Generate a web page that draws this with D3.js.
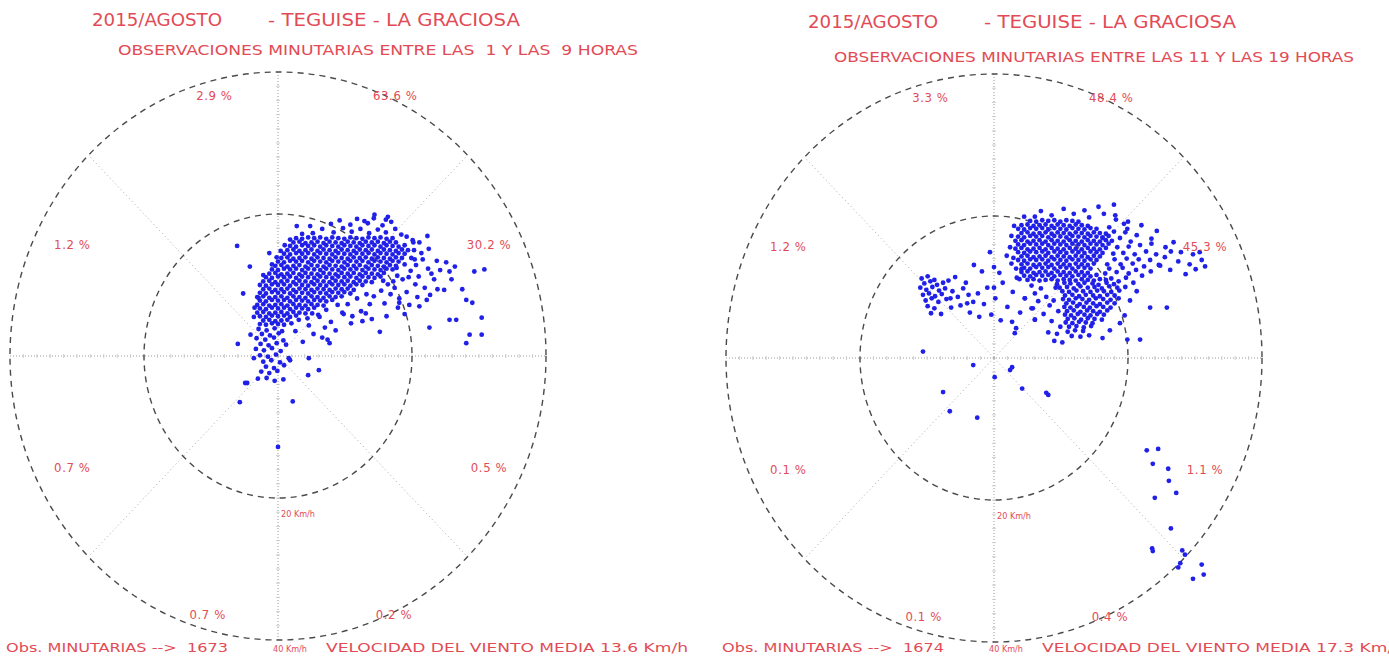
<!DOCTYPE html>
<html>
<head>
<meta charset="utf-8">
<script src="https://cdn.jsdelivr.net/npm/d3@7"></script>
<style>
body{margin:0;background:#fff;}
svg{display:block;}
text{font-family:"DejaVu Sans Condensed","Liberation Sans Narrow",sans-serif;fill:#e24b55;white-space:pre;}
</style>
</head>
<body>
<svg id="chart" width="1389" height="663"></svg>
<script>
// percentages per sector, clockwise from north: NNE, ENE, ESE, SSE, SSW, WSW, WNW, NNW
var sectorsAM = [63.6, 30.2, 0.5, 0.2, 0.7, 0.7, 1.2, 2.9];
var sectorsPM = [48.4, 45.3, 1.1, 0.4, 0.1, 0.1, 1.2, 3.3];
var hoursAM = [1, 9];
var hoursPM = [11, 19];
var countAM = 1673;
var countPM = 1674;
var meanAM = 13.6;
var meanPM = 17.3;
var ringSpeeds = [20, 40];

var obsAM = [
// dense core
[2.7,16.6],[3.6,16.5],[4.5,16.7],[5.4,16.6],[6.3,16.7],[7.2,16.5],[8.1,16.7],[9.0,16.6],[9.9,16.5],[10.8,16.7],[11.7,16.6],[12.6,16.5],[13.5,16.7],[14.4,16.6],[15.3,16.7],[16.2,16.5],[17.1,16.6],
[2.3,16.0],[3.2,16.1],[4.1,15.9],[5.0,16.0],[5.9,16.1],[6.8,15.9],[7.7,16.1],[8.6,16.0],[9.5,15.9],[10.4,16.1],[11.3,16.0],[12.2,15.9],[13.1,16.1],[14.0,16.0],[14.9,16.1],[15.8,15.9],[16.7,16.1],[17.6,16.0],
[1.8,15.5],[2.7,15.4],[3.6,15.6],[4.5,15.5],[5.4,15.6],[6.3,15.4],[7.2,15.6],[8.1,15.5],[9.0,15.4],[9.9,15.6],[10.8,15.5],[11.7,15.4],[12.6,15.6],[13.5,15.5],[14.4,15.6],[15.3,15.4],[16.2,15.6],[17.1,15.5],[18.0,15.4],[18.9,15.6],
[1.4,14.9],[2.3,15.0],[3.2,14.8],[4.1,14.9],[5.0,15.0],[5.9,14.8],[6.8,15.0],[7.7,14.9],[8.6,14.8],[9.5,15.0],[10.4,14.9],[11.3,14.8],[12.2,15.0],[13.1,14.9],[14.0,15.0],[14.9,14.8],[15.8,15.0],[16.7,14.9],[17.6,14.8],[18.5,15.0],[19.4,14.9],
[0.9,14.4],[1.8,14.3],[2.7,14.5],[3.6,14.4],[4.5,14.5],[5.4,14.3],[6.3,14.5],[7.2,14.4],[8.1,14.3],[9.0,14.5],[9.9,14.4],[10.8,14.3],[11.7,14.5],[12.6,14.4],[13.5,14.5],[14.4,14.3],[15.3,14.5],[16.2,14.4],[17.1,14.3],[18.0,14.5],[18.9,14.4],
[0.5,13.8],[1.4,13.9],[2.3,13.7],[3.2,13.8],[4.1,13.9],[5.0,13.7],[5.9,13.9],[6.8,13.8],[7.7,13.7],[8.6,13.9],[9.5,13.8],[10.4,13.7],[11.3,13.9],[12.2,13.8],[13.1,13.9],[14.0,13.7],[14.9,13.9],[15.8,13.8],[16.7,13.7],[17.6,13.9],[18.5,13.8],
[0.0,13.3],[0.9,13.2],[1.8,13.4],[2.7,13.3],[3.6,13.4],[4.5,13.2],[5.4,13.4],[6.3,13.3],[7.2,13.2],[8.1,13.4],[9.0,13.3],[9.9,13.2],[10.8,13.4],[11.7,13.3],[12.6,13.4],[13.5,13.2],[14.4,13.4],[15.3,13.3],[16.2,13.2],[17.1,13.4],[18.0,13.3],
[-0.4,12.7],[0.5,12.8],[1.4,12.6],[2.3,12.7],[3.2,12.8],[4.1,12.6],[5.0,12.8],[5.9,12.7],[6.8,12.6],[7.7,12.8],[8.6,12.7],[9.5,12.6],[10.4,12.8],[11.3,12.7],[12.2,12.8],[13.1,12.6],[14.0,12.8],[14.9,12.7],[15.8,12.6],[16.7,12.8],[17.6,12.7],
[-0.9,12.2],[0.0,12.1],[0.9,12.3],[1.8,12.2],[2.7,12.3],[3.6,12.1],[4.5,12.3],[5.4,12.2],[6.3,12.1],[7.2,12.3],[8.1,12.2],[9.0,12.1],[9.9,12.3],[10.8,12.2],[11.7,12.3],[12.6,12.1],[13.5,12.3],[14.4,12.2],[15.3,12.1],[16.2,12.3],[17.1,12.2],
[-1.3,11.6],[-0.4,11.7],[0.5,11.5],[1.4,11.6],[2.3,11.7],[3.2,11.5],[4.1,11.7],[5.0,11.6],[5.9,11.5],[6.8,11.7],[7.7,11.6],[8.6,11.5],[9.5,11.7],[10.4,11.6],[11.3,11.7],[12.2,11.5],[13.1,11.7],[14.0,11.6],[14.9,11.5],[15.8,11.7],
[-1.8,11.1],[-0.9,11.0],[0.0,11.2],[0.9,11.1],[1.8,11.2],[2.7,11.0],[3.6,11.2],[4.5,11.1],[5.4,11.0],[6.3,11.2],[7.2,11.1],[8.1,11.0],[9.0,11.2],[9.9,11.1],[10.8,11.2],[11.7,11.0],[12.6,11.2],[13.5,11.1],[14.4,11.0],[15.3,11.2],
[-2.2,10.5],[-1.3,10.6],[-0.4,10.4],[0.5,10.5],[1.4,10.6],[2.3,10.4],[3.2,10.6],[4.1,10.5],[5.0,10.4],[5.9,10.6],[6.8,10.5],[7.7,10.4],[8.6,10.6],[9.5,10.5],[10.4,10.6],[11.3,10.4],[12.2,10.6],[13.1,10.5],[14.0,10.4],
[-2.7,10.0],[-1.8,9.9],[-0.9,10.1],[0.0,10.0],[0.9,10.1],[1.8,9.9],[2.7,10.1],[3.6,10.0],[4.5,9.9],[5.4,10.1],[6.3,10.0],[7.2,9.9],[8.1,10.1],[9.0,10.0],[9.9,10.1],[10.8,9.9],[11.7,10.1],[12.6,10.0],
[-2.2,9.4],[-1.3,9.5],[-0.4,9.3],[0.5,9.4],[1.4,9.5],[2.3,9.3],[3.2,9.5],[4.1,9.4],[5.0,9.3],[5.9,9.5],[6.8,9.4],[7.7,9.3],[8.6,9.5],[9.5,9.4],[10.4,9.5],[11.3,9.3],
[-2.7,8.9],[-1.8,8.8],[-0.9,9.0],[0.0,8.9],[0.9,9.0],[1.8,8.8],[2.7,9.0],[3.6,8.9],[4.5,8.8],[5.4,9.0],[6.3,8.9],[7.2,8.8],[8.1,9.0],[9.0,8.9],[9.9,9.0],[10.8,8.8],
[-3.1,8.3],[-2.2,8.4],[-1.3,8.2],[-0.4,8.3],[0.5,8.4],[1.4,8.2],[2.3,8.4],[3.2,8.3],[4.1,8.2],[5.0,8.4],[5.9,8.3],[6.8,8.2],[7.7,8.4],[8.6,8.3],[9.5,8.4],
[-2.7,7.8],[-1.8,7.7],[-0.9,7.9],[0.0,7.8],[0.9,7.9],[1.8,7.7],[2.7,7.9],[3.6,7.8],[4.5,7.7],[5.4,7.9],[6.3,7.8],[7.2,7.7],[8.1,7.9],
[-3.1,7.2],[-2.2,7.3],[-1.3,7.1],[-0.4,7.2],[0.5,7.3],[1.4,7.1],[2.3,7.3],[3.2,7.2],[4.1,7.1],[5.0,7.3],[5.9,7.2],[6.8,7.1],
[-2.7,6.7],[-1.8,6.6],[-0.9,6.8],[0.0,6.7],[0.9,6.8],[1.8,6.6],[2.7,6.8],[3.6,6.7],[4.5,6.6],[5.4,6.8],
[-3.1,6.1],[-2.2,6.2],[-1.3,6.0],[-0.4,6.1],[0.5,6.2],[1.4,6.0],[2.3,6.2],[3.2,6.1],[4.1,6.0],
[-2.7,5.6],[-1.8,5.5],[-0.9,5.7],[0.0,5.6],[0.9,5.7],[1.8,5.5],[2.7,5.7],
[-2.2,5.0],[-1.3,5.1],[-0.4,4.9],[0.5,5.0],[1.4,5.1],
[-2.7,4.5],[-1.8,4.4],[-0.9,4.6],[0.0,4.5],[0.9,4.4],
// southward strand
[-2.9,3.8],[-1.7,3.6],[-0.5,3.9],[0.6,3.5],[-2.4,3.1],[-1.2,2.9],[0.1,3.2],[-3.2,2.5],[-1.9,2.3],[-0.6,2.6],
[0.8,2.2],[-2.6,1.7],[-1.4,1.5],[-0.2,1.8],[-3.3,1.0],[-2.1,0.8],[-0.9,1.1],[0.4,0.7],[-2.7,0.1],[-1.5,-0.1],
[-0.3,0.2],[-2.2,-0.8],[-1.0,-0.6],[0.3,-0.9],[-1.8,-1.5],[-0.6,-1.7],[-2.5,-2.2],[-1.3,-2.4],[-0.1,-2.1],[-1.7,-3.1],
[-0.5,-3.5],[0.8,-3.3],[-3.0,-3.2],[-4.6,-3.8],[0.9,-1.3],[1.8,-0.6],[-3.6,-0.3],[1.2,1.6],
// upper fringe
[5.2,17.3],[8.3,17.4],[11.0,17.5],[13.6,17.3],[16.1,17.4],[18.4,17.1],[3.6,17.2],[6.6,17.9],[9.7,18.0],[12.3,17.9],
[14.9,17.8],[17.5,17.9],[4.8,18.3],[7.9,18.6],[10.8,18.5],[13.4,18.7],[15.6,18.4],[16.9,18.9],[11.8,19.3],[14.3,19.4],
[16.1,19.2],[12.9,19.0],[9.2,19.1],[19.2,16.8],[20.1,16.3],[2.8,18.3],[14.4,19.9],[16.4,19.6],
// left fringe
[-2.2,11.4],[-0.9,12.9],[-0.2,13.9],[0.4,14.8],[1.0,15.6],[1.8,16.4],[-2.9,8.2],[-1.3,14.5],[-3.5,6.8],
// east side, medium density
[19.8,12.0],[21.0,11.2],[22.4,12.3],[20.5,10.1],[21.9,9.6],[23.3,10.8],[19.2,9.0],[20.8,8.3],[22.7,8.6],[18.6,10.8],
[24.2,12.1],[23.7,13.4],[21.6,13.6],[20.3,14.9],[22.5,15.1],[18.1,8.1],[19.6,7.2],[17.4,9.6],[16.8,8.7],[17.9,6.8],
[15.9,7.4],[14.3,8.4],[13.7,7.3],[16.4,10.1],[25.1,13.2],[26.4,12.6],[24.8,9.3],[18.9,5.9],[16.2,5.6],[14.0,5.2],
[12.4,6.3],[17.8,11.3],[18.9,12.9],[20.6,12.8],[19.5,11.1],[17.2,10.5],[15.4,9.2],[13.2,8.7],[11.8,8.1],[21.4,14.5],
[19.9,13.8],[17.7,12.4],[15.7,10.6],[22.9,11.6],[20.2,16.0],[18.1,7.5],[10.4,7.3],[8.9,7.2],[7.2,6.5],[9.6,6.1],
[11.1,5.6],[6.0,5.8],
[22.3,16.9],[29.3,11.9],[30.4,5.4],[28.1,1.8],[30.4,3.0],[28.6,3.0],[25.6,5.1],[26.6,5.1],[22.6,4.0],[29.0,7.5],
[28.1,7.9],[25.9,10.8],[27.5,9.4],[25.6,11.9],[23.8,9.4],[22.2,7.9],[21.1,7.0],[15.2,3.4],[30.8,12.2],[20.4,13.6],[21.1,16.0],
// south of the core
[3.1,5.1],[4.6,4.3],[6.2,5.5],[7.9,4.8],[5.3,3.1],[8.6,3.6],[2.6,3.5],[9.8,5.9],[3.7,2.0],[5.1,6.0],
[7.0,4.0],[10.9,4.6],[12.6,4.9],[13.1,6.0],[4.4,5.3],[6.6,2.6],[2.0,4.6],
// isolated
[-6.1,15.5],[-4.2,12.6],[-5.2,8.8],[-6.0,1.7],[-4.9,-3.8],[-5.7,-6.5],[0.0,-12.8],[2.2,-6.4],[4.5,-2.7],[6.1,-2.0],
[4.6,-0.3],[1.6,-0.3],[7.7,1.8],[7.4,2.3],[-3.6,5.5],[-4.1,3.0]
];

var obsPM = [
// main cluster
[5.4,19.3],[6.3,19.2],[7.2,19.4],[8.1,19.3],[9.0,19.4],[9.9,19.2],[10.8,19.4],[11.7,19.3],[12.6,19.2],
[4.1,18.7],[5.0,18.8],[5.9,18.6],[6.8,18.7],[7.7,18.8],[8.6,18.6],[9.5,18.8],[10.4,18.7],[11.3,18.6],[12.2,18.8],[13.1,18.7],[14.0,18.6],
[3.6,18.2],[4.5,18.1],[5.4,18.3],[6.3,18.2],[7.2,18.3],[8.1,18.1],[9.0,18.3],[9.9,18.2],[10.8,18.1],[11.7,18.3],[12.6,18.2],[13.5,18.1],[14.4,18.3],[15.3,18.2],
[4.1,17.6],[5.0,17.7],[5.9,17.5],[6.8,17.6],[7.7,17.7],[8.6,17.5],[9.5,17.7],[10.4,17.6],[11.3,17.5],[12.2,17.7],[13.1,17.6],[14.0,17.5],[14.9,17.7],[15.8,17.6],[16.7,17.5],
[3.6,17.1],[4.5,17.0],[5.4,17.2],[6.3,17.1],[7.2,17.2],[8.1,17.0],[9.0,17.2],[9.9,17.1],[10.8,17.0],[11.7,17.2],[12.6,17.1],[13.5,17.0],[14.4,17.2],[15.3,17.1],[16.2,17.0],[17.1,17.2],
[3.2,16.5],[4.1,16.6],[5.0,16.4],[5.9,16.5],[6.8,16.6],[7.7,16.4],[8.6,16.6],[9.5,16.5],[10.4,16.4],[11.3,16.6],[12.2,16.5],[13.1,16.4],[14.0,16.6],[14.9,16.5],[15.8,16.4],[16.7,16.6],[17.6,16.5],
[3.6,16.0],[4.5,15.9],[5.4,16.1],[6.3,16.0],[7.2,16.1],[8.1,15.9],[9.0,16.1],[9.9,16.0],[10.8,15.9],[11.7,16.1],[12.6,16.0],[13.5,15.9],[14.4,16.1],[15.3,16.0],[16.2,15.9],[17.1,16.1],
[3.2,15.4],[4.1,15.5],[5.0,15.3],[5.9,15.4],[6.8,15.5],[7.7,15.3],[8.6,15.5],[9.5,15.4],[10.4,15.3],[11.3,15.5],[12.2,15.4],[13.1,15.3],[14.0,15.5],[14.9,15.4],[15.8,15.3],[16.7,15.5],
[3.6,14.9],[4.5,14.8],[5.4,15.0],[6.3,14.9],[7.2,15.0],[8.1,14.8],[9.0,15.0],[9.9,14.9],[10.8,14.8],[11.7,15.0],[12.6,14.9],[13.5,14.8],[14.4,15.0],[15.3,14.9],[16.2,14.8],
[4.1,14.3],[5.0,14.4],[5.9,14.2],[6.8,14.3],[7.7,14.4],[8.6,14.2],[9.5,14.4],[10.4,14.3],[11.3,14.2],[12.2,14.4],[13.1,14.3],[14.0,14.2],[14.9,14.4],[15.8,14.3],
[3.6,13.8],[4.5,13.7],[5.4,13.9],[6.3,13.8],[7.2,13.9],[8.1,13.7],[9.0,13.9],[9.9,13.8],[10.8,13.7],[11.7,13.9],[12.6,13.8],[13.5,13.7],[14.4,13.9],[15.3,13.8],
[4.1,13.2],[5.0,13.3],[5.9,13.1],[6.8,13.2],[7.7,13.3],[8.6,13.1],[9.5,13.3],[10.4,13.2],[11.3,13.1],[12.2,13.3],[13.1,13.2],[14.0,13.1],[14.9,13.3],
[4.5,12.7],[5.4,12.6],[6.3,12.8],[7.2,12.7],[8.1,12.8],[9.0,12.6],[9.9,12.8],[10.8,12.7],[11.7,12.6],[12.6,12.8],[13.5,12.7],[14.4,12.6],
[4.1,12.1],[5.0,12.2],[5.9,12.0],[6.8,12.1],[7.7,12.2],[8.6,12.0],[9.5,12.2],[10.4,12.1],[11.3,12.0],[12.2,12.2],[13.1,12.1],[14.0,12.0],
[4.5,11.6],[5.4,11.5],[6.3,11.7],[7.2,11.6],[8.1,11.7],[9.0,11.5],[9.9,11.7],[10.8,11.6],[11.7,11.5],[12.6,11.7],[13.5,11.6],[14.4,11.5],[15.3,11.7],
[5.0,11.0],[5.9,11.1],[6.8,10.9],[7.7,11.0],[8.6,11.1],[9.5,10.9],[10.4,11.1],[11.3,11.0],[12.2,10.9],[13.1,11.1],[14.0,11.0],[14.9,10.9],[15.8,11.1],[16.7,11.0],
// southern lobe
[9.4,10.4],[10.5,10.6],[11.4,10.5],[12.6,10.4],[13.5,10.6],[14.7,10.5],[15.6,10.3],[16.8,10.6],[17.9,10.4],
[9.8,9.9],[10.9,10.0],[11.9,9.8],[12.9,10.1],[14.0,9.9],[15.0,10.0],[16.1,9.8],[17.2,10.1],[18.4,9.9],
[10.2,9.4],[11.2,9.3],[12.3,9.5],[13.3,9.4],[14.4,9.3],[15.4,9.5],[16.4,9.4],[17.5,9.3],[18.7,9.5],
[10.6,8.8],[11.7,8.9],[12.7,8.7],[13.7,8.9],[14.8,8.8],[15.8,8.7],[16.9,8.9],[18.0,8.8],
[10.3,8.3],[11.2,8.2],[12.2,8.4],[13.2,8.3],[14.2,8.2],[15.2,8.4],[16.3,8.3],[17.4,8.2],[18.6,8.4],
[10.8,7.7],[11.8,7.8],[12.8,7.6],[13.8,7.8],[14.8,7.7],[15.8,7.6],[16.9,7.8],[18.0,7.7],
[10.5,7.2],[11.4,7.1],[12.4,7.3],[13.4,7.2],[14.3,7.1],[15.3,7.3],[16.3,7.2],[17.4,7.1],
[10.9,6.6],[11.9,6.7],[12.9,6.5],[13.9,6.7],[14.8,6.6],[15.8,6.5],[16.9,6.7],
[10.6,6.1],[11.5,6.0],[12.5,6.2],[13.5,6.1],[14.4,6.0],[15.4,6.2],[16.4,6.1],
[11.0,5.5],[12.0,5.6],[13.0,5.4],[14.0,5.6],[15.0,5.5],[16.1,5.4],
[10.7,5.0],[11.7,4.9],[12.7,5.1],[13.7,5.0],[14.7,4.9],
[11.2,4.4],[12.3,4.5],[13.4,4.3],[14.5,4.5],
[11.0,3.7],[12.1,3.9],[13.3,3.8],
[11.6,3.1],[12.9,3.0],[14.2,3.2],
// eastern band
[17.9,17.8],[18.8,16.9],[19.6,17.7],[20.4,16.4],[21.3,17.3],[18.4,15.6],[19.3,14.8],[20.1,15.7],[21.0,14.6],[21.8,15.9],
[22.7,15.0],[23.5,16.1],[18.0,13.9],[18.9,13.2],[19.8,14.0],[20.7,13.3],[21.6,13.9],[22.4,12.9],[23.3,13.8],[24.2,14.6],
[17.2,12.6],[18.3,12.1],[19.2,12.7],[20.1,11.9],[21.2,12.4],[22.1,11.6],[23.4,12.2],[24.6,13.1],[25.5,14.2],[26.4,15.0],
[16.6,11.9],[17.5,11.2],[18.6,10.8],[19.7,11.3],[20.8,10.6],[19.6,10.0],[21.3,9.4],[24.8,13.0],[26.3,12.4],[27.5,13.6],
[25.6,15.6],[27.9,14.9],[29.2,13.2],[30.1,12.5],[28.6,11.8],[31.0,13.8],[29.7,14.6],[26.8,16.3],[23.5,16.8],[22.0,18.7],
[19.4,18.9],[18.2,19.5],[31.5,12.9],[30.7,14.9],[24.3,17.9],[17.8,14.7],[16.9,13.2],[16.2,16.9],[17.2,18.4],
// northern fringe
[7.0,20.7],[10.4,21.0],[13.5,20.8],[15.6,21.3],[18.1,20.1],[20.0,19.2],[4.5,19.9],[3.0,18.6],[17.9,21.6],[19.9,18.2],
[8.6,20.1],[11.9,20.3],[14.2,19.8],[16.4,20.3],[6.1,19.9],[2.6,17.2],[2.4,15.6],[2.9,14.1],[3.3,12.6],[3.8,11.1],
// below the main cluster
[7.0,9.8],[7.8,8.6],[8.3,7.4],[7.4,6.2],[8.6,5.2],[6.6,8.0],[8.1,3.6],[9.0,2.4],[5.6,10.2],[6.1,9.1],
[9.2,9.9],[8.9,8.1],[9.6,6.6],[9.9,4.4],[5.8,7.0],[6.1,5.4],[4.6,8.4],[9.4,3.4],[10.2,2.2],
[19.9,2.6],[23.3,7.1],[25.8,7.1],[21.8,2.6],[19.5,6.0],[20.3,8.1],[18.8,4.9],[17.3,3.9],[16.2,2.8],
// western group
[-10.8,11.2],[-9.9,11.5],[-8.9,11.0],[-10.4,10.5],[-9.5,10.8],[-8.5,10.3],[-7.6,10.6],[-11.0,9.9],[-10.1,9.6],[-9.2,10.0],
[-8.2,9.5],[-7.3,9.8],[-10.6,8.9],[-9.7,9.1],[-8.8,8.7],[-7.8,9.0],[-10.2,8.1],[-9.3,8.4],[-8.3,7.9],[-9.9,7.3],
[-8.9,7.0],[-7.1,8.3],[-6.2,9.4],[-5.4,8.6],[-4.6,9.8],[-3.8,8.9],[-5.0,7.4],[-6.4,7.1],[-3.1,7.9],[-2.4,9.1],
[-4.2,10.6],[-6.8,10.9],[-5.8,11.4],[-7.9,6.2],[-9.4,6.3],[-3.6,6.4],[-2.2,5.8],[-1.5,7.6],[-6.5,8.4],[-4.0,7.7],
[-1.0,9.9],[0.2,8.4],[1.3,10.6],[2.0,7.2],[2.8,9.3],[3.4,11.3],[-0.4,6.1],[1.0,5.3],[3.9,6.4],[4.6,8.4],
[4.1,12.5],[2.6,13.3],[-1.8,12.2],[0.8,12.0],[-0.6,14.9],[5.6,7.0],[6.1,5.4],[3.3,4.2],[-3.0,13.1],[1.9,14.4],
[0.0,12.8],[0.0,9.9],[3.1,3.5],[2.7,5.1],
// isolated and south-east group
[-10.6,0.9],[-3.1,-1.0],[0.1,-2.7],[2.7,-1.3],[2.4,-1.7],[-7.6,-4.8],[-6.6,-7.5],[-2.5,-8.4],[4.2,-4.3],[8.1,-5.2],[7.8,-4.9],
[22.8,-13.0],[24.5,-12.8],[23.7,-14.9],[26.0,-15.6],[26.1,-17.3],[24.0,-19.7],[27.2,-19.0],[26.4,-24.0],[23.6,-26.8],
[23.7,-27.2],[28.1,-27.1],[28.5,-27.7],[27.8,-28.9],[27.5,-29.5],[31.0,-29.1],[31.3,-30.5],[29.7,-31.1]
];

// sector label anchors, Km/h offsets from the centre (same order as the sector arrays)
var labelAnchors = [[17.5,36.7],[31.5,15.8],[31.5,-15.6],[17.3,-36.3],[-10.5,-36.3],[-30.7,-15.6],[-30.7,15.8],[-9.5,36.7]];

var svg = d3.select("#chart");

var panels = [
    {cx:278, cy:356, obs:obsAM, sectors:sectorsAM, hours:hoursAM, count:countAM, mean:meanAM, clipX:0, clipW:695, titleY:26, subY:55},
    {cx:994, cy:358, obs:obsPM, sectors:sectorsPM, hours:hoursPM, count:countPM, mean:meanPM, clipX:698, clipW:691, titleY:28, subY:62}
];

function pad2(n){ return (n < 10 ? " " : "") + n; }

panels.forEach(function(p, k){
    var maxSpeed = d3.max(ringSpeeds);
    var x = d3.scaleLinear().domain([-maxSpeed, maxSpeed]).range([p.cx - 268, p.cx + 268]);
    var y = d3.scaleLinear().domain([-maxSpeed, maxSpeed]).range([p.cy + 284, p.cy - 284]);

    svg.append("clipPath").attr("id", "clip" + k)
        .append("rect").attr("x", p.clipX).attr("y", 0).attr("width", p.clipW).attr("height", 663);

    var g = svg.append("g").attr("clip-path", "url(#clip" + k + ")");

    // horizontal and vertical axes, dotted with small ticks
    g.append("line")
        .attr("x1", x(-maxSpeed)).attr("x2", x(maxSpeed)).attr("y1", y(0)).attr("y2", y(0))
        .attr("stroke", "#9a9a9a").attr("stroke-dasharray", "1,2");
    g.append("line")
        .attr("x1", x(0)).attr("x2", x(0)).attr("y1", y(maxSpeed)).attr("y2", y(-maxSpeed))
        .attr("stroke", "#9a9a9a").attr("stroke-dasharray", "1,2");

    var tickVals = d3.range(-maxSpeed + 2, maxSpeed, 2);
    g.selectAll(".hx").data(tickVals).enter().append("line")
        .attr("x1", function(d){ return x(d); }).attr("x2", function(d){ return x(d); })
        .attr("y1", y(0) - 2).attr("y2", y(0) + 2)
        .attr("stroke", "#c4c4c4").attr("stroke-width", 0.8);
    g.selectAll(".vy").data(tickVals).enter().append("line")
        .attr("y1", function(d){ return y(d); }).attr("y2", function(d){ return y(d); })
        .attr("x1", x(0) - 2).attr("x2", x(0) + 2)
        .attr("stroke", "#c4c4c4").attr("stroke-width", 0.8);

    // diagonals
    var diag = maxSpeed * Math.SQRT1_2;
    [[1,1],[1,-1],[-1,1],[-1,-1]].forEach(function(s){
        g.append("line")
            .attr("x1", x(0)).attr("y1", y(0))
            .attr("x2", x(s[0] * diag)).attr("y2", y(s[1] * diag))
            .attr("stroke", "#a8a8a8").attr("stroke-dasharray", "1,3");
    });

    // speed rings
    g.selectAll("ellipse").data(ringSpeeds).enter().append("ellipse")
        .attr("cx", x(0)).attr("cy", y(0))
        .attr("rx", function(d){ return x(d) - x(0); })
        .attr("ry", function(d){ return y(0) - y(d); })
        .attr("fill", "none").attr("stroke", "#4a4a4a")
        .attr("stroke-width", 1.4).attr("stroke-dasharray", "6,5");

    // observations
    g.selectAll("circle").data(p.obs).enter().append("circle")
        .attr("cx", function(d){ return x(d[0]); })
        .attr("cy", function(d){ return y(d[1]); })
        .attr("r", 2.4)
        .attr("fill", "#2020e8");

    // sector percentages
    g.selectAll(".pct").data(p.sectors).enter().append("text")
        .attr("class", "pct")
        .attr("x", function(d, i){ return x(labelAnchors[i][0]); })
        .attr("y", function(d, i){ return y(labelAnchors[i][1]) + 5; })
        .attr("text-anchor", "middle")
        .attr("font-size", 13)
        .attr("letter-spacing", 0.6)
        .text(function(d){ return d.toFixed(1) + " %"; });

    // ring labels
    g.append("text")
        .attr("x", x(0) + 20).attr("y", y(-ringSpeeds[0]) + 19)
        .attr("text-anchor", "middle").attr("font-size", 9)
        .text(ringSpeeds[0] + " Km/h");
    g.append("text")
        .attr("x", x(0) + 12).attr("y", 652)
        .attr("text-anchor", "middle").attr("font-size", 9)
        .text(ringSpeeds[1] + " Km/h");

    // titles
    g.append("text").attr("x", p.cx - 186).attr("y", p.titleY)
        .attr("font-size", 18).attr("textLength", 130).attr("lengthAdjust", "spacingAndGlyphs")
        .text("2015/AGOSTO");
    g.append("text").attr("x", p.cx - 10).attr("y", p.titleY)
        .attr("font-size", 18).attr("textLength", 252).attr("lengthAdjust", "spacingAndGlyphs")
        .text("- TEGUISE - LA GRACIOSA");
    g.append("text").attr("x", p.cx - 160).attr("y", p.subY)
        .attr("font-size", 14).attr("textLength", 520).attr("lengthAdjust", "spacingAndGlyphs")
        .text("OBSERVACIONES MINUTARIAS ENTRE LAS " + pad2(p.hours[0]) + " Y LAS " + pad2(p.hours[1]) + " HORAS");

    // footer
    g.append("text").attr("x", p.cx - 272).attr("y", 652)
        .attr("font-size", 13).attr("textLength", 222).attr("lengthAdjust", "spacingAndGlyphs")
        .text("Obs. MINUTARIAS -->  " + p.count);
    g.append("text").attr("x", p.cx + 48).attr("y", 652)
        .attr("font-size", 13).attr("textLength", 362).attr("lengthAdjust", "spacingAndGlyphs")
        .text("VELOCIDAD DEL VIENTO MEDIA " + p.mean.toFixed(1) + " Km/h");
});
</script>
</body>
</html>
